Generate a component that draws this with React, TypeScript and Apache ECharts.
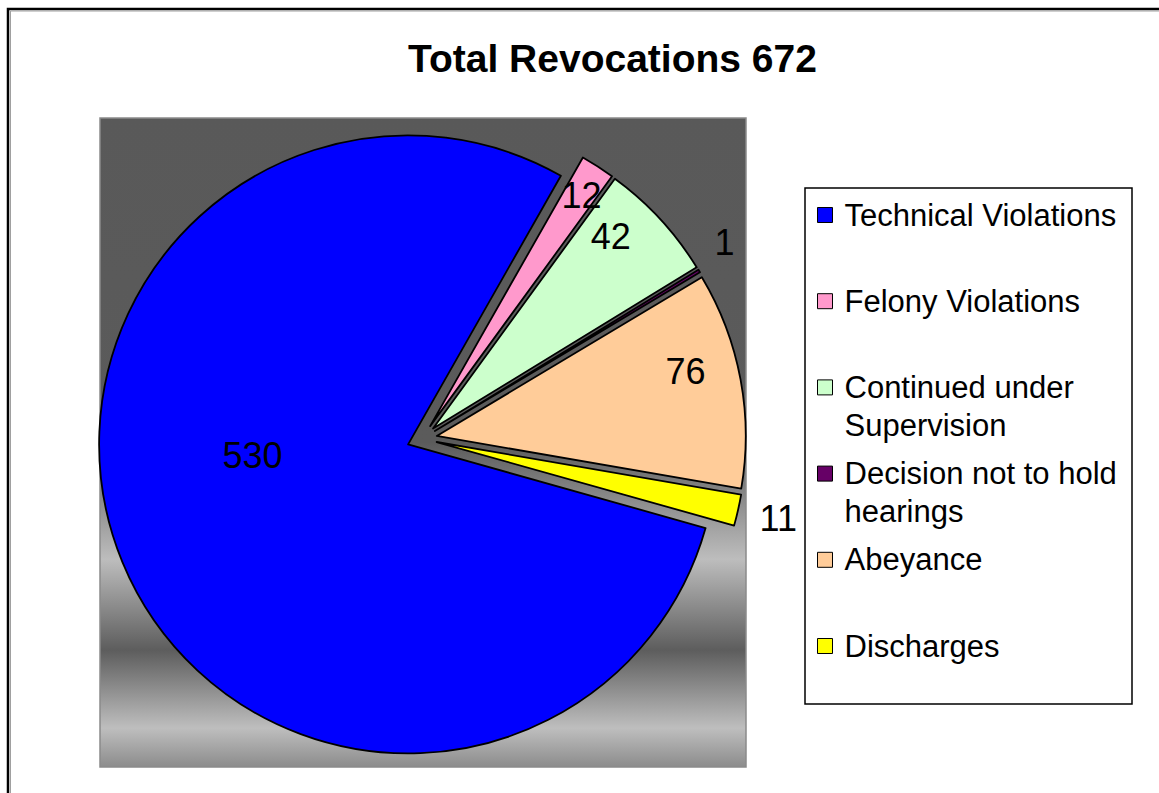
import React, { useEffect, useRef } from "react";
import * as echarts from "echarts";

const titleText = "Total Revocations 672";
const categories = [
  "Technical Violations",
  "Felony Violations",
  "Continued under Supervision",
  "Decision not to hold hearings",
  "Abeyance",
  "Discharges",
];
const values = [530, 12, 42, 1, 76, 11];
const sliceColors = ["#0000ff", "#ff99cc", "#ccffcc", "#660066", "#ffcc99", "#ffff00"];
const legendLabels = [
  "Technical Violations",
  "Felony Violations",
  "Continued under\nSupervision",
  "Decision not to hold\nhearings",
  "Abeyance",
  "Discharges",
];

// label nudges (pixels) from ECharts' default inside position
const labelDx = [-10, 66, 62, 155, 94, 188];
const labelDy = [-49, -98, -85, -107, -36, 42];

const FONT = "'Liberation Sans', Arial, sans-serif";

export default function App() {
  const ref = useRef<HTMLDivElement>(null);
  useEffect(() => {
    if (!ref.current) return;
    const chart = echarts.init(ref.current, undefined, { renderer: "svg" });
    const data = categories.map((name, i) => ({
      name,
      value: values[i],
      selected: true,
      itemStyle: { color: sliceColors[i] },
    }));
    const legendText: Record<string, string> = {};
    categories.forEach((c, i) => {
      const parts = legendLabels[i].split("\n");
      legendText[c] = parts.length === 1 ? "\n" + parts[0] + "\n" : "\n" + parts.join("\n");
    });
    chart.setOption({
      animation: false,
      backgroundColor: "#ffffff",
      title: {
        text: titleText,
        left: 408,
        top: 39,
        padding: 0,
        textStyle: { fontFamily: FONT, fontWeight: "bold", fontSize: 39, color: "#000" },
      },
      graphic: [
        {
          type: "rect",
          z: 0,
          shape: { x: 8, y: 9, width: 1400, height: 1000 },
          style: { fill: "#ffffff", stroke: "#000000", lineWidth: 2.5 },
        },
        {
          type: "rect",
          z: 0,
          shape: { x: 10.5, y: 11, width: 1400, height: 1000 },
          style: { fill: "none", stroke: "#a0a0a0", lineWidth: 1 },
        },
        {
          type: "rect",
          z: 1,
          shape: { x: 100, y: 118, width: 646, height: 649 },
          style: {
            fill: {
              type: "linear",
              x: 0,
              y: 0,
              x2: 0,
              y2: 1,
              colorStops: [
                { offset: 0, color: "#595959" },
                { offset: 0.5, color: "#5b5b5b" },
                { offset: 0.68, color: "#bdbdbd" },
                { offset: 0.82, color: "#5d5d5d" },
                { offset: 0.94, color: "#bebebe" },
                { offset: 1, color: "#8c8c8c" },
              ],
            },
            stroke: "#8a8a8a",
            lineWidth: 1.5,
          },
        },
        {
          type: "rect",
          z: 1,
          shape: { x: 805, y: 188, width: 327, height: 516 },
          style: { fill: "#ffffff", stroke: "#000000", lineWidth: 1.5 },
        },
      ],
      legend: {
        orient: "vertical",
        left: 817,
        top: 158,
        padding: 0,
        itemGap: -27.8,
        itemWidth: 15,
        itemHeight: 15,
        icon: "rect",
        selectedMode: false,
        itemStyle: { borderColor: "#000", borderWidth: 1 },
        data: categories,
        formatter: (name: string) => legendText[name],
        textStyle: {
          fontFamily: FONT,
          fontSize: 31,
          lineHeight: 38,
          color: "#000",
          padding: [0, 0, 0, 7],
        },
      },
      series: [
        {
          type: "pie",
          center: [422, 438.7],
          radius: 309,
          startAngle: -15.7,
          clockwise: true,
          selectedMode: "multiple",
          selectedOffset: 15,
          avoidLabelOverlap: false,
          emphasis: { disabled: true },
          itemStyle: { borderColor: "#000", borderWidth: 1.8 },
          select: { itemStyle: { borderColor: "#000", borderWidth: 1.8 } },
          label: {
            show: true,
            position: "inside",
            formatter: "{c}",
            fontFamily: FONT,
            fontSize: 36,
            color: "#000",
          },
          labelLine: { show: false },
          labelLayout: (p: any) => ({ dx: labelDx[p.dataIndex], dy: labelDy[p.dataIndex] }),
          data,
        },
      ],
    });
    return () => chart.dispose();
  }, []);
  return (
    <div
      ref={ref}
      style={{ position: "absolute", left: 0, top: 0, width: 1159, height: 793 }}
    />
  );
}
